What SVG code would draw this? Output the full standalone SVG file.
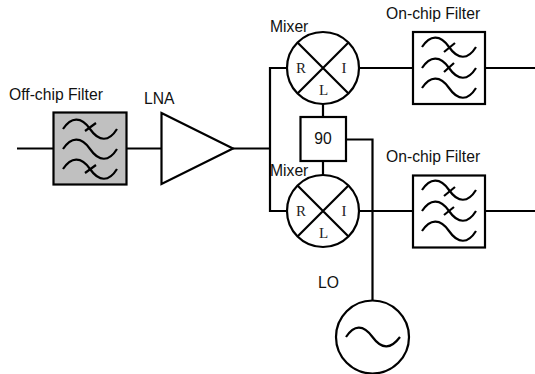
<svg xmlns="http://www.w3.org/2000/svg" xmlns:xlink="http://www.w3.org/1999/xlink" width="535" height="374" viewBox="0 0 535 374">
<style>
.l{fill:none;stroke:#000;stroke-width:2.2}
.b{fill:#fff;stroke:#000;stroke-width:2.2}
.g{fill:#c0c0c0;stroke:#000;stroke-width:2.2}
.t{font-family:"Liberation Sans",Arial,sans-serif;font-size:15.7px;fill:#111}
.s{font-family:"Liberation Serif","Times New Roman",serif;font-size:15px;fill:#222;text-anchor:middle}
</style>
<defs>
<path id="w" class="l" d="M0 0C8-12 18-13 27 0S46 13 54 0"/>
<g id="mx"><circle class="b" r="36"/><path class="l" d="M-25.500-25.500L25.500 25.500M25.500-25.500L-25.500 25.500"/></g>
</defs>
<g id="connectors">
<path class="l" d="M17 148.500H53M126 148.500H162M233 148.500H269"/>
<path class="l" d="M287 68H270V211H287"/>
<path class="l" d="M359 68H413M485 68H535"/>
<path class="l" d="M323 104V117M323 161V175"/>
<path class="l" d="M346 139.500H372.500V301"/>
<path class="l" d="M359 211H413M485 211H535"/>
</g>
<g id="offchip-filter">
<rect class="g" x="53.500" y="112.500" width="73" height="72"/>
<use xlink:href="#w" href="#w" x="63" y="129"/>
<use xlink:href="#w" href="#w" x="63" y="149"/>
<use xlink:href="#w" href="#w" x="63" y="169"/>
<path class="l" d="M85 131L96 123M85 173L96 165"/>
<text class="t" x="9" y="100">Off-chip Filter</text>
</g>
<g id="lna">
<path class="b" d="M161.500 113L233 148.500L161.500 184Z"/>
<text class="t" x="144" y="104">LNA</text>
</g>
<g id="mixer-top">
<use xlink:href="#mx" href="#mx" x="323" y="68"/>
<text class="s" x="301" y="73">R</text><text class="s" x="344" y="73">I</text><text class="s" x="323.500" y="95">L</text>
<text class="t" x="270" y="32">Mixer</text>
</g>
<g id="filter-top">
<rect class="b" x="413" y="32" width="72" height="72"/>
<use xlink:href="#w" href="#w" x="422" y="47"/>
<use xlink:href="#w" href="#w" x="422" y="68"/>
<use xlink:href="#w" href="#w" x="422" y="88"/>
<path class="l" d="M444 52L455 43M444 72L454 63"/>
<text class="t" x="386" y="19">On-chip Filter</text>
</g>
<g id="phase90">
<rect class="b" x="300.500" y="117" width="45.500" height="44"/>
<text x="323" y="144" style="font-family:'Liberation Sans',Arial,sans-serif;font-size:15.700px;text-anchor:middle;fill:#111">90</text>
</g>
<g id="mixer-bottom">
<use xlink:href="#mx" href="#mx" x="323" y="211"/>
<text class="s" x="301" y="216">R</text><text class="s" x="344" y="216">I</text><text class="s" x="323.500" y="238">L</text>
<text class="t" x="270" y="176">Mixer</text>
</g>
<g id="filter-bottom">
<rect class="b" x="413" y="175.500" width="72" height="72"/>
<use xlink:href="#w" href="#w" x="422" y="190"/>
<use xlink:href="#w" href="#w" x="422" y="211"/>
<use xlink:href="#w" href="#w" x="422" y="231"/>
<path class="l" d="M444 196L455 187M444 215L454 207"/>
<text class="t" x="386" y="162">On-chip Filter</text>
</g>
<g id="lo">
<circle class="b" cx="372.500" cy="337" r="36.500"/>
<path class="l" d="M346 337C354 325 363 324 372.500 337S391 349 400 337"/>
<text class="t" x="318" y="288">LO</text>
</g>
</svg>
